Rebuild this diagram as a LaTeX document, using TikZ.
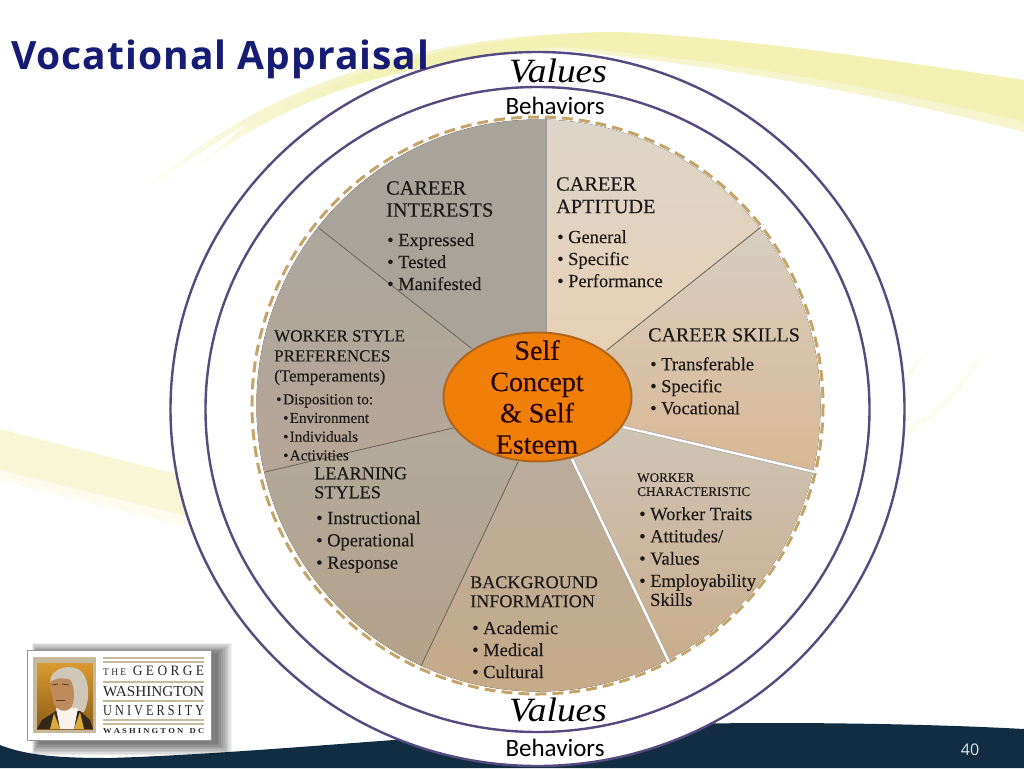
\documentclass[tikz,border=0pt]{standalone}
\usepackage{fontspec}
\usepackage{graphicx}
\usetikzlibrary{calc}
\setmainfont[FakeBold=0.2]{Liberation Serif}
\newfontfamily\valfont{Liberation Serif}
\newfontfamily\logofont{Liberation Serif}
\newfontfamily\ttlfont[LetterSpace=2.6]{Open Sans}
\newfontfamily\pgfont{Open Sans}
\newfontfamily\behfont{Carlito}
\newcommand{\fz}[2]{\fontsize{#1}{#2}\selectfont}
\newcommand{\bl}[1][11pt]{\makebox[#1][l]{\textbullet}}
\definecolor{ringc}{HTML}{564A80}
\definecolor{dashc}{HTML}{C5A469}
\definecolor{navy}{HTML}{122D42}
\definecolor{ttlc}{HTML}{161C74}
\definecolor{orgc}{HTML}{F07F09}
\definecolor{orge}{HTML}{B0671C}
\definecolor{swa}{HTML}{F3F2B4}
\definecolor{swb}{HTML}{F6F5CE}
\definecolor{ink}{HTML}{1C1A18}
\definecolor{rulec}{HTML}{C6BA9C}
\definecolor{seamc}{HTML}{6E675C}
\definecolor{portA}{HTML}{D99A30}
\definecolor{portB}{HTML}{8E5E18}
\definecolor{portC}{HTML}{33261A}
\definecolor{portD}{HTML}{DDAA3A}
\definecolor{portE}{HTML}{CFC8B8}
\definecolor{portF}{HTML}{BE8C5C}
\definecolor{portG}{HTML}{5A3A20}
\pgfdeclarehorizontalshading{swooshl}{100bp}{color(0bp)=(white); color(25bp)=(white); color(30bp)=(swb); color(38bp)=(swa); color(100bp)=(swa)}
\pgfdeclarehorizontalshading{swooshb}{100bp}{color(0bp)=(white); color(25bp)=(white); color(32bp)=(swb); color(100bp)=(swb)}
\tikzset{
  txt/.style={anchor=north west,inner sep=0pt,align=left,text=ink},
  ringline/.style={draw=ringc,line width=2.4pt},
  seamdark/.style={draw=seamc,line width=.8pt},
  seamwhite/.style={draw=white,line width=2.4pt},
  logotxt/.style={inner sep=0pt,text=black!85,font=\logofont},
  logorule/.style={draw=rulec,line width=1.1pt}
}
% #1 polygon, #2 top colour, #3 bottom colour, #4 y top, #5 y bottom
\newcommand{\sector}[5]{%
  \begin{scope}
    \definecolor{secT}{HTML}{#2}\definecolor{secB}{HTML}{#3}
    \clip (538.5,405.5) ellipse [x radius=282,y radius=286];
    \clip #1 -- cycle;
    \fill[top color=secT,bottom color=secB] (240,#4) rectangle (840,#5);
  \end{scope}}
\begin{document}
\begin{tikzpicture}[x=1pt,y=-1pt]
\useasboundingbox (0,0) rectangle (1024,768);
\fill[white] (0,0) rectangle (1024,768);
% background swooshes
\path[shading=swooshb] (133,197) .. controls (230,115) and (370,32) .. (620,32)
  .. controls (740,38) and (890,60) .. (1024,80) -- (1024,132)
  .. controls (880,95) and (720,65) .. (560,50)
  .. controls (400,60) and (270,100) .. (180,183) -- (247,123) -- cycle;
\path[shading=swooshl] (180,183) .. controls (270,100) and (400,60) .. (560,47)
  .. controls (720,58) and (880,88) .. (1024,122) -- (1024,80)
  .. controls (890,60) and (740,38) .. (620,32)
  .. controls (480,32) and (340,70) .. (247,123) -- cycle;
\fill[swb!35] (0,462) -- (185,510) -- (186,527) -- (0,480) -- cycle;
\fill[swb!85] (0,429) -- (180,475) -- (186,516) -- (0,470) -- cycle;
\fill[swb!35] (906,375) -- (930,345) -- (908,380) -- cycle;
\fill[swb!30] (908,428) .. controls (940,405) and (965,380) .. (987,346)
  .. controls (970,385) and (945,410) .. (908,436) -- cycle;
% bottom band
\fill[navy] (0,745) .. controls (30,757) and (70,758) .. (110,758)
  .. controls (300,752) and (520,723) .. (770,723)
  .. controls (860,723) and (950,725) .. (1024,729) -- (1024,768) -- (0,768) -- cycle;
% rings
\path[fill=white,ringline] (537.5,409) ellipse [x radius=367,y radius=357];
\path[ringline] (537.5,409.5) ellipse [x radius=332,y radius=322.5];
% spoke coordinates: i = at hub, r = at rim
\coordinate (i1) at (546,334); \coordinate (r1) at (546,118);
\coordinate (i2) at (607,350); \coordinate (r2) at (761,227);
\coordinate (i3) at (623,427); \coordinate (r3) at (815,472);
\coordinate (i4) at (572,459); \coordinate (r4) at (669,662);
\coordinate (i5) at (518,462); \coordinate (r5) at (421,666);
\coordinate (i6) at (453,428); \coordinate (r6) at (265,472);
\coordinate (i7) at (471,348); \coordinate (r7) at (320,229);
\coordinate (hub) at (537.5,397);
\foreach \n in {1,...,7}{\coordinate (e\n) at ($(i\n)!1.6!(r\n)$);}
% sectors
\sector{(hub) -- (i7) -- (e7) -- (e1) -- (i1)}{A8A49C}{ABA398}{118}{400}
\sector{(hub) -- (i1) -- (e1) -- (e2) -- (i2)}{DDD5CA}{E9D0AF}{118}{400}
\sector{(hub) -- (i2) -- (e2) -- (e3) -- (i3)}{D7CFC2}{D9B893}{225}{475}
\sector{(hub) -- (i3) -- (e3) -- (e4) -- (i4)}{CFC7BA}{C9AD8A}{400}{665}
\sector{(hub) -- (i4) -- (e4) -- (e5) -- (i5)}{B7AEA0}{C6AB88}{400}{694}
\sector{(hub) -- (i5) -- (e5) -- (e6) -- (i6)}{B1AB9E}{B5A28A}{400}{670}
\sector{(hub) -- (i6) -- (e6) -- (e7) -- (i7)}{ACA79E}{B6A697}{225}{475}
% dashed rim
\path[draw=dashc,line width=3pt,dash pattern=on 11pt off 6pt] (537.5,405.5) ellipse [x radius=285.5,y radius=288.5];
% spokes
\draw[draw=gray!75,line width=1.4pt] (i1) -- (r1);
\draw[seamdark] (i2) -- (r2);
\draw[draw=gray!70,line width=3.6pt] (i3) -- (r3);
\draw[seamwhite] (i3) -- (r3);
\draw[draw=gray!70,line width=3.6pt] (i4) -- (r4);
\draw[seamwhite] (i4) -- (r4);
\draw[seamdark] (i5) -- (r5);
\draw[seamdark] (i6) -- (r6);
\draw[seamdark] (i7) -- (r7);
% hub
\path[fill=orgc,draw=orge,line width=2pt] (537.5,397) ellipse [x radius=94,y radius=64.5];
\node[inner sep=0pt,align=center,text=black!85!red,font=\fz{28}{31.3}] (hubtext) at (537,397) {Self\\Concept\\\&{} Self\\Esteem};
% sector text
\node[txt,font=\fz{20.3}{22}] (h1) at (386,181) {CAREER\\INTERESTS};
\node[txt,font=\fz{18.5}{22}] (b1) at (387,233) {\bl Expressed\\\bl Tested\\\bl Manifested};
\node[txt,font=\fz{20.3}{22.5}] (h2) at (556,177) {CAREER\\APTITUDE};
\node[txt,font=\fz{18.5}{22}] (b2) at (557,230) {\bl General\\\bl Specific\\\bl Performance};
\node[txt,font=\fz{20}{22}] (h3) at (648,328) {CAREER SKILLS};
\node[txt,font=\fz{18.5}{22}] (b3) at (650,357) {\bl Transferable\\\bl Specific\\\bl Vocational};
\node[txt,font=\fz{13.2}{14}] (h4) at (637,473) {WORKER\\CHARACTERISTIC};
\node[txt,font=\fz{18.5}{22.3}] (b4) at (639,507) {\bl Worker Traits\\\bl Attitudes/\\\bl Values\\\bl Employability\\[-3.3pt]\hspace*{11pt}Skills};
\node[txt,font=\fz{18.1}{19}] (h5) at (470,576) {BACKGROUND\\INFORMATION};
\node[txt,font=\fz{18.5}{22}] (b5) at (472,621) {\bl Academic\\\bl Medical\\\bl Cultural};
\node[txt,font=\fz{18.2}{19}] (h6) at (314,467) {LEARNING\\STYLES};
\node[txt,font=\fz{18.5}{22.3}] (b6) at (316,511) {\bl Instructional\\\bl Operational\\\bl Response};
\node[txt,font=\fz{17}{20}] (h7) at (274,330) {WORKER STYLE\\PREFERENCES\\(Temperaments)};
\node[txt,font=\fz{15.2}{18.7}] (b7) at (276,394) {\bl[7pt]Disposition to:\\\hspace*{7pt}\bl[6.5pt]Environment\\\hspace*{7pt}\bl[6.5pt]Individuals\\\hspace*{7pt}\bl[6.5pt]Activities};
% ring labels
\node[inner sep=0pt,font=\valfont\fz{34}{34}\itshape,text=black] (val1) at (558,71) {\scalebox{1.1}[1]{Values}};
\node[inner sep=0pt,font=\behfont\fz{25}{25},text=black] (beh1) at (555,106) {Behaviors};
\node[inner sep=0pt,font=\valfont\fz{34}{34}\itshape,text=black] (val2) at (558,710) {\scalebox{1.1}[1]{Values}};
\node[inner sep=0pt,font=\behfont\fz{25}{25},text=black] (beh2) at (555,748) {Behaviors};
% title and page number
\node[anchor=base west,inner sep=0pt,font=\ttlfont\bfseries\fz{39}{39},text=ttlc] (title) at (11,69) {Vocational Appraisal};
\node[inner sep=0pt,font=\pgfont\fz{16}{16},text=white!88!navy] (pg) at (970,750) {40};
% logo
\foreach \k in {0,...,8}{
  \fill[black,opacity=.075] (32+\k*0.8,643+\k*1.2) rectangle (232-\k*1.8,755-\k*1.4);
}
\path[fill=white,draw=gray!85,line width=1pt] (27,650) rectangle (211,740);
\path[fill=rulec] (33,657) rectangle (96,733);
\begin{scope}
  \clip (37,663) rectangle (93,729);
  \fill[top color=portA,bottom color=portB] (37,663) rectangle (93,729);
  \fill[portE] (50,682) .. controls (50,668) and (72,662) .. (82,672)
     .. controls (90,682) and (90,700) .. (84,712) -- (68,712) -- cycle;
  \fill[portC] (37,729) -- (42,720) -- (56,711) -- (80,711) -- (90,720) -- (93,729) -- cycle;
  \fill[portD] (50,729) -- (54,713) -- (60,729) -- cycle;
  \fill[portD] (74,729) -- (80,712) -- (84,729) -- cycle;
  \fill[white!90!brown] (56,708) -- (78,708) -- (74,729) -- (60,729) -- cycle;
  \fill[portF] (50,686) .. controls (49,678) and (58,672) .. (66,675)
     .. controls (74,680) and (76,696) .. (72,706) .. controls (68,713) and (58,712) .. (54,704) -- cycle;
  \fill[portE] (50,682) .. controls (54,672) and (68,670) .. (76,682) .. controls (68,678) and (58,676) .. (50,682) -- cycle;
  \draw[portG,line width=.8pt] (52,685) -- (58,684); \draw[portG,line width=.8pt] (62,684) -- (69,685);
  \draw[portG,line width=.8pt] (56,700) -- (65,700);
\end{scope}
\draw[logorule] (103,658) -- (204,658); \draw[logorule] (103,662) -- (204,662);
\draw[logorule] (103,682) -- (204,682);
\draw[logorule] (103,701) -- (204,701);
\draw[logorule] (103,720) -- (204,720); \draw[logorule] (103,724) -- (204,724);
\node[logotxt,anchor=base west] (lg1) at (103,675) {\resizebox{101pt}{9.5pt}{{\fontsize{7}{7}\selectfont T H E}\ \ G E O R G E}};
\node[logotxt,anchor=base west] (lg2) at (103,696) {\resizebox{101pt}{10pt}{WASHINGTON}};
\node[logotxt,anchor=base west] (lg3) at (103,715) {\resizebox{101pt}{10pt}{U N I V E R S I T Y}};
\node[logotxt,anchor=base west] (lg4) at (103,733) {\resizebox{101pt}{5pt}{\bfseries W A S H I N G T O N\ \ \ D C}};
\end{tikzpicture}
\end{document}
